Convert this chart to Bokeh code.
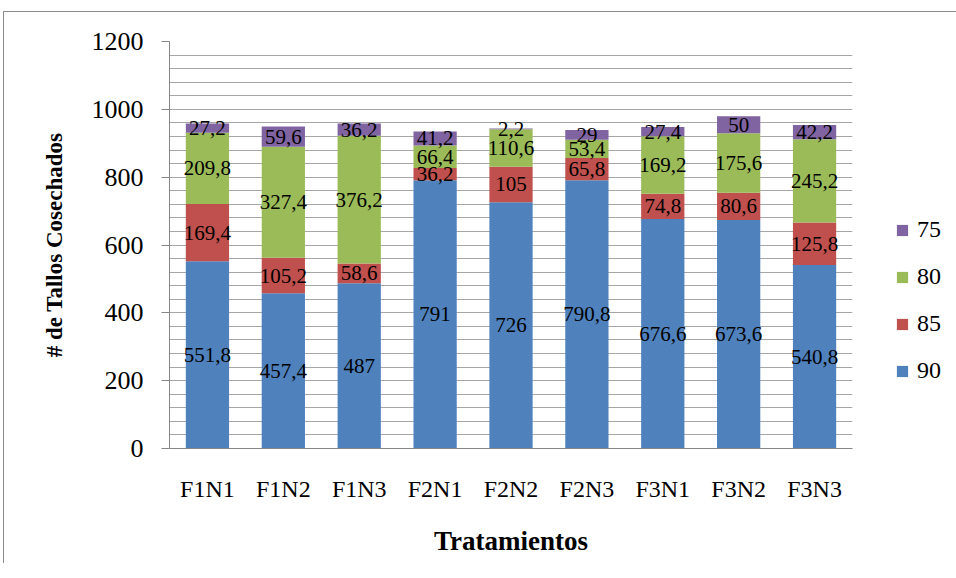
from bokeh.plotting import figure
from bokeh.models import ColumnDataSource, LabelSet, Legend, LegendItem, SingleIntervalTicker, FixedTicker
from bokeh.core.properties import value
from bokeh.embed import file_html
from bokeh.resources import INLINE

categories = ["F1N1", "F1N2", "F1N3", "F2N1", "F2N2", "F2N3", "F3N1", "F3N2", "F3N3"]
s90 = [551.8, 457.4, 487, 791, 726, 790.8, 676.6, 673.6, 540.8]
s85 = [169.4, 105.2, 58.6, 36.2, 105, 65.8, 74.8, 80.6, 125.8]
s80 = [209.8, 327.4, 376.2, 66.4, 110.6, 53.4, 169.2, 175.6, 245.2]
s75 = [27.2, 59.6, 36.2, 41.2, 2.2, 29, 27.4, 50, 42.2]
series_names = ["90", "85", "80", "75"]
series_values = [s90, s85, s80, s75]
colors = ["#4F81BD", "#C0504D", "#9BBB59", "#8064A2"]
y_ticks = [0, 200, 400, 600, 800, 1000, 1200]

FONT = "Liberation Serif"
FONT_Q = "'Liberation Serif', serif"
GRID = "#a6a6a6"
AXIS = "#868686"

data = {"cat": categories}
for n, v in zip(series_names, series_values):
    data[n] = v
src = ColumnDataSource(data)

p = figure(x_range=categories, y_range=(0, 1200), frame_width=683, frame_height=407,
           min_border_left=165, min_border_top=29, min_border_bottom=115, min_border_right=95,
           output_backend="svg", toolbar_location=None, outline_line_color=None)
p.styles = {"border-left": "1px solid #8c8c8c", "border-top": "1px solid #8c8c8c",
            "margin-left": "3px", "margin-top": "11px"}

renderers = p.vbar_stack(series_names, x="cat", width=0.57, color=colors, source=src, line_color=None)

# labels
base = [0.0] * len(categories)
for n, v in zip(series_names, series_values):
    mids = [b + x / 2 for b, x in zip(base, v)]
    txt = [f"{x:g}".replace(".", ",") for x in v]
    lsrc = ColumnDataSource(dict(cat=categories, y=mids, t=txt))
    p.add_layout(LabelSet(x="cat", y="y", text="t", source=lsrc, text_align="center",
                          text_baseline="middle", text_font=value(FONT_Q), text_font_size=value("21px"),
                          text_color="black"))
    base = [b + x for b, x in zip(base, v)]

# grid
p.xgrid.grid_line_color = None
p.ygrid.ticker = SingleIntervalTicker(interval=40)
p.ygrid.grid_line_color = GRID
p.ygrid.grid_line_width = 1

# y axis
p.yaxis.ticker = FixedTicker(ticks=y_ticks)
p.yaxis.axis_line_color = AXIS
p.yaxis.major_tick_line_color = AXIS
p.yaxis.major_tick_out = 8
p.yaxis.major_tick_in = 0
p.yaxis.minor_tick_line_color = None
p.yaxis.major_label_text_font = FONT
p.yaxis.major_label_text_font_size = "26px"
p.yaxis.major_label_text_color = "black"
p.yaxis.major_label_standoff = 18
p.yaxis.axis_label = "# de Tallos Cosechados"
p.yaxis.axis_label_text_font = FONT
p.yaxis.axis_label_text_font_size = "23px"
p.yaxis.axis_label_text_font_style = "bold"
p.yaxis.axis_label_text_color = "black"
p.yaxis.axis_label_standoff = 22

# x axis
p.xaxis.axis_line_color = AXIS
p.xaxis.major_tick_line_color = None
p.xaxis.major_tick_out = 0
p.xaxis.minor_tick_line_color = None
p.xaxis.major_label_text_font = FONT
p.xaxis.major_label_text_font_size = "24px"
p.xaxis.major_label_text_color = "black"
p.xaxis.major_label_standoff = 27
p.xaxis.axis_label = "Tratamientos"
p.xaxis.axis_label_text_font = FONT
p.xaxis.axis_label_text_font_size = "27px"
p.xaxis.axis_label_text_font_style = "bold"
p.xaxis.axis_label_text_color = "black"
p.xaxis.axis_label_standoff = 21
p.x_range.range_padding = 0

items = [LegendItem(label=series_names[i], renderers=[renderers[i]]) for i in [3, 2, 1, 0]]
legend = Legend(items=items, location=(43, 64), padding=0, margin=22, spacing=20,
                glyph_width=14, glyph_height=14, label_height=26, label_standoff=8,
                label_text_font=FONT_Q, label_text_font_size="24px", label_text_color="black",
                border_line_color=None, background_fill_alpha=0)
p.add_layout(legend, "right")

open("out.html", "w").write(file_html(p, INLINE))
